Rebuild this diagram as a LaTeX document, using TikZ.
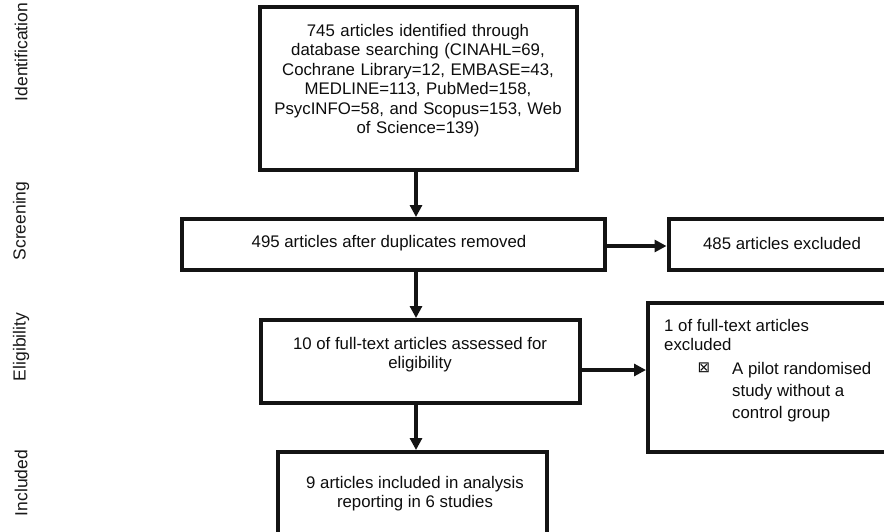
\documentclass[tikz,border=0pt]{standalone}
\usepackage{fontspec}
\setmainfont{Liberation Sans}
\newfontfamily\boxsym{DejaVu Sans}
\usetikzlibrary{arrows.meta}
\tikzset{
  stage/.style={draw=black!92,line width=4pt,rectangle,inner sep=0pt},
  txt/.style={inner sep=0pt,font=\fontsize{16.8}{19.5}\selectfont,text=black!95},
  phase/.style={inner sep=0pt,rotate=90,font=\fontsize{17.5}{20}\selectfont,text=black!90},
  flow/.style={draw=black!92,line width=3.5pt,-{Triangle[width=12pt,length=12pt]}}
}
\begin{document}
\begin{tikzpicture}[x=1pt,y=-1pt]
      \useasboundingbox (0,0) rectangle (884,531);
      \clip (0,0) rectangle (884,531);
      % phase labels
      \node[phase] (idn) at (21,52) {Identification};
      \node[phase] (scr) at (21,221) {Screening};
      \node[phase] (elg) at (21,347) {Eligibility};
      \node[phase] (inc) at (21,483) {Included};
      % boxes
      \node[stage,minimum width=317pt,minimum height=163pt] (b1) at (418.5,88.5) {};
      \node[stage,minimum width=423pt,minimum height=51pt] (b2) at (393.5,244.5) {};
      \node[stage,minimum width=235pt,minimum height=51pt] (b3) at (786,244.5) {};
      \node[stage,minimum width=319pt,minimum height=83pt] (b4) at (420.5,361.5) {};
      \node[stage,minimum width=272pt,minimum height=149pt] (b5) at (784,377.5) {};
      \node[stage,minimum width=269pt,minimum height=108pt] (b6) at (412.5,506) {};
      % texts
      \node[txt,anchor=north,text width=310pt,align=center] (t1) at (418,24)
        {745 articles identified through\\database searching (CINAHL=69,\\Cochrane Library=12, EMBASE=43,\\MEDLINE=113, PubMed=158,\\PsycINFO=58, and Scopus=153, Web\\of Science=139)};
      \node[txt] (t2) at (389,243) {495 articles after duplicates removed};
      \node[txt] (t3) at (782,243) {485 articles excluded};
      \node[txt,anchor=north,align=center] (t4) at (420,337) {10 of full-text articles assessed for\\eligibility};
      \node[txt,anchor=north west,align=left] (t5) at (664,319) {1 of full-text articles\\excluded};
      \node[txt,anchor=north west,align=left,font=\fontsize{16.8}{22}\selectfont] (t5b) at (732,362) {A pilot randomised\\study without a\\control group};
      \node[txt,font=\boxsym\fontsize{15}{17}\selectfont] (t5m) at (704,368) {⊠};
      \node[txt,anchor=north,align=center] (t6) at (415,476) {9 articles included in analysis\\reporting in 6 studies};
      % arrows
      \coordinate (spine) at (416,0);
      \draw[flow] (spine |- b1.south) -- (spine |- b2.north);
      \draw[flow] (spine |- b2.south) -- (spine |- b4.north);
      \draw[flow] (spine |- b4.south) -- (spine |- b6.north);
      \draw[flow] ([yshift=-1.5pt]b2.east) -- ([yshift=-1.5pt]b2.east -| b3.west);
      \draw[flow] ([yshift=-8.5pt]b4.east) -- ([yshift=-8.5pt]b4.east -| b5.west);
    \end{tikzpicture}
\end{document}
